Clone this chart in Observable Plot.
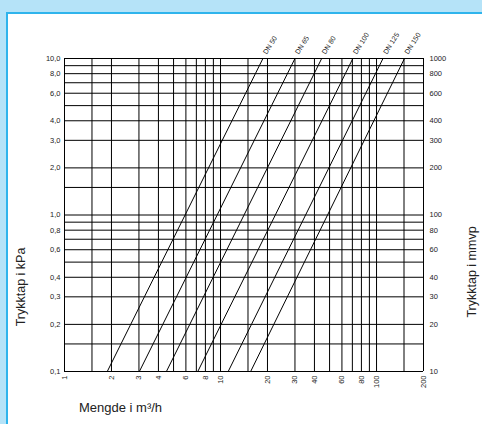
<!DOCTYPE html>
<html><head><meta charset="utf-8">
<script src="https://cdn.jsdelivr.net/npm/d3@7"></script>
<script src="https://cdn.jsdelivr.net/npm/@observablehq/plot@0.6"></script>
<style>
html,body{margin:0;padding:0;}
body{background:#b5e3f8;width:482px;height:424px;overflow:hidden;position:relative;font-family:"Liberation Sans",Arial,sans-serif;}
#panel{position:absolute;left:6px;top:12px;width:520px;height:440px;background:#fff;border-left:2px solid #2fb4ec;border-top:2px solid #2fb4ec;}
#chart{position:absolute;left:0;top:0;}
</style></head><body><div id="panel"></div><div id="chart"></div>
<script>
// Series: valve sizes, flow (m³/h) at 0.1 kPa and at 10 kPa
const series = ["DN 50", "DN 65", "DN 80", "DN 100", "DN 125", "DN 150"];
const flowAtLow = [1.88, 3.02, 4.5, 7.15, 11.2, 15.6];
const flowAtHigh = [18.7, 30, 44.5, 70.5, 110, 151];
const pressureLow = 0.1;
const pressureHigh = 10;

// Grid and ticks
const xGrid = [1, 1.5, 2, 3, 4, 5, 6, 7, 8, 9, 10, 15, 20, 30, 40, 50, 60, 70, 80, 90, 100, 150, 200];
const yGrid = [0.1, 0.15, 0.2, 0.3, 0.4, 0.5, 0.6, 0.7, 0.8, 0.9, 1, 1.5, 2, 3, 4, 5, 6, 7, 8, 9, 10];
const xTicks = [1, 2, 3, 4, 6, 8, 10, 20, 30, 40, 60, 80, 100, 200];
const xTickLabels = ["1", "2", "3", "4", "6", "8", "10", "20", "30", "40", "60", "80", "100", "200"];
const yTicks = [0.1, 0.2, 0.3, 0.4, 0.6, 0.8, 1, 2, 3, 4, 6, 8, 10];
const yTickLabelsLeft = ["0,1", "0,2", "0,3", "0,4", "0,6", "0,8", "1,0", "2,0", "3,0", "4,0", "6,0", "8,0", "10,0"];
const yTickLabelsRight = ["10", "20", "30", "40", "60", "80", "100", "200", "300", "400", "600", "800", "1000"];

const lineData = series.flatMap((s, i) => [
  {s, q: flowAtLow[i], p: pressureLow},
  {s, q: flowAtHigh[i], p: pressureHigh}
]);
const labelData = series.map((s, i) => ({s, q: flowAtHigh[i], p: pressureHigh}));
const xTickData = xTicks.map((v, i) => ({v, t: xTickLabels[i]}));
const yTickData = yTicks.map((v, i) => ({v, l: yTickLabelsLeft[i], r: yTickLabelsRight[i]}));

const chart = Plot.plot({
  width: 482,
  height: 424,
  marginLeft: 64,
  marginRight: 59,
  marginTop: 58,
  marginBottom: 53,
  style: {background: "transparent", fontFamily: "Liberation Sans, Arial, sans-serif", color: "#222"},
  x: {type: "log", domain: [1, 200], axis: null},
  y: {type: "log", domain: [0.1, 10], axis: null},
  marks: [
    Plot.ruleX(xGrid, {x: d => d, stroke: "#000", strokeWidth: 1}),
    Plot.ruleY(yGrid, {y: d => d, stroke: "#000", strokeWidth: 1}),
    Plot.line(lineData, {x: "q", y: "p", z: "s", stroke: "#000", strokeWidth: 1}),
    Plot.text(labelData, {x: "q", y: "p", text: "s", rotate: -58, textAnchor: "start", dx: 2, dy: -5, fontSize: 7, fill: "#222"}),
    Plot.text(xTickData, {x: "v", frameAnchor: "bottom", text: "t", rotate: -90, textAnchor: "end", lineAnchor: "middle", dy: 4, fontSize: 7.5, fill: "#222"}),
    Plot.text(yTickData, {y: "v", frameAnchor: "left", text: "l", textAnchor: "end", dx: -4, fontSize: 7.5, fill: "#222"}),
    Plot.text(yTickData, {y: "v", frameAnchor: "right", text: "r", textAnchor: "start", dx: 6, fontSize: 7.5, fill: "#222"})
  ]
});
document.getElementById("chart").appendChild(chart);

const svg = d3.select(chart);
svg.append("text").attr("transform", "translate(25,287) rotate(-90)").attr("text-anchor", "middle")
  .attr("font-size", 12.5).attr("fill", "#222").text("Trykktap i kPa");
svg.append("text").attr("transform", "translate(476,272) rotate(-90)").attr("text-anchor", "middle")
  .attr("font-size", 12.5).attr("fill", "#222").text("Trykktap i mmvp");
svg.append("text").attr("x", 79).attr("y", 412).attr("text-anchor", "start")
  .attr("font-size", 13).attr("fill", "#222").text("Mengde i m³/h");
</script></body></html>
